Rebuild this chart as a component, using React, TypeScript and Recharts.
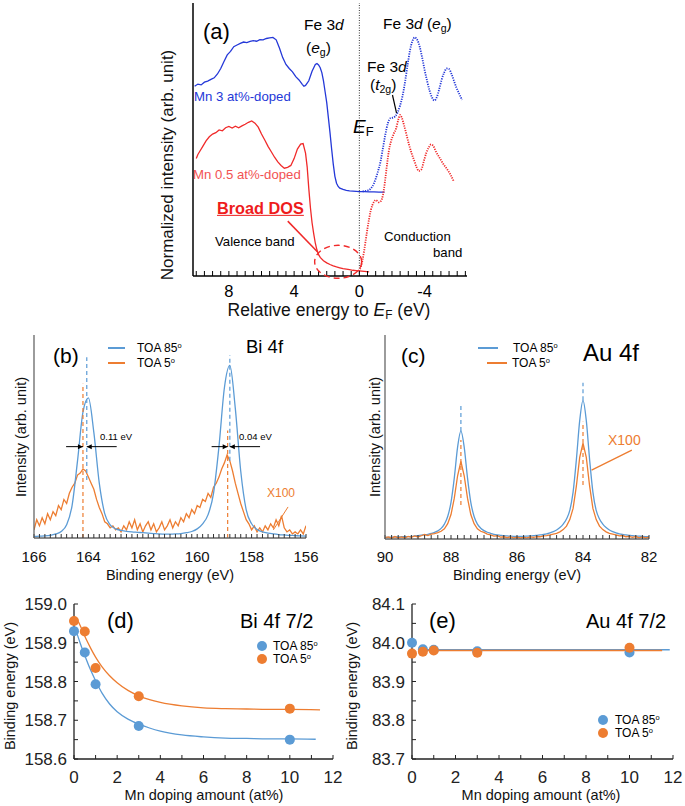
import React from 'react';
import {
  LineChart, ComposedChart, Line, Scatter, XAxis, YAxis, ReferenceLine, ReferenceDot,
} from 'recharts';

const FONT = 'Arial, "Liberation Sans", Helvetica, sans-serif';
const A_BLUE = '#2438d8';
const A_RED = '#f02a2a';
const BLUE = '#5b9bd5';
const ORANGE = '#ed7d31';
const GRAY = '#666';

// ---------- (a) Mn-doped spectra (relative energy to EF, eV) ----------
const A_TICKS = [10, 9.5, 9, 8.5, 8, 7.5, 7, 6.5, 6, 5.5, 5, 4.5, 4, 3.5, 3, 2.5, 2, 1.5, 1, 0.5, 0,
  -0.5, -1, -1.5, -2, -2.5, -3, -3.5, -4, -4.5, -5, -5.5, -6, -6.5];
const A_LABELS = [8, 4, 0, -4];

const MN3_VB_E = [10.1, 9.9, 9.7, 9.5, 9.3, 9.1, 8.9, 8.7, 8.5, 8.3, 8.1, 7.9, 7.7, 7.5, 7.3, 7.1, 6.9, 6.7,
  6.5, 6.3, 6.1, 5.9, 5.7, 5.5, 5.3, 5.1, 4.9, 4.7, 4.5, 4.3, 4.1, 3.9, 3.7, 3.5, 3.4, 3.3, 3.1, 2.9, 2.7,
  2.6, 2.5, 2.4, 2.3, 2.2, 2.1, 2.0, 1.9, 1.8, 1.7, 1.6, 1.5, 1.4, 1.3, 1.2, 1.0, 0.8, 0.6, 0.4, 0.2, 0.0,
  -0.3, -0.6, -0.9, -1.2, -1.55];
const MN3_VB = [69.5, 70.3, 70.0, 71.0, 71.4, 72.0, 72.6, 74.0, 76.0, 78.6, 81.0, 82.3, 84.0, 84.6, 85.2, 85.7,
  85.5, 85.9, 86.2, 86.0, 86.6, 86.5, 87.0, 87.2, 87.4, 86.5, 83.5, 80.0, 77.5, 76.0, 74.8, 73.0, 71.8, 70.2,
  69.5, 69.8, 71.5, 75.0, 77.5, 77.8, 77.3, 76.3, 74.5, 71.5, 67.5, 63.5, 58.0, 52.5, 46.5, 41.0, 36.5, 34.0,
  32.8, 32.2, 31.7, 31.4, 31.2, 31.1, 31.0, 30.9, 30.9, 30.8, 30.8, 30.7, 30.7];

const MN3_CB_E = [-0.2, -0.5, -0.7, -0.9, -1.1, -1.3, -1.45, -1.6, -1.75, -1.9, -2.05, -2.2, -2.35, -2.5,
  -2.65, -2.8, -2.95, -3.1, -3.25, -3.4, -3.55, -3.7, -3.85, -4.0, -4.15, -4.3, -4.45, -4.6, -4.75, -4.9,
  -5.05, -5.2, -5.35, -5.5, -5.65, -5.8, -5.95, -6.1, -6.3];
const MN3_CB = [31.0, 31.3, 32.0, 34.0, 37.5, 42.0, 47.0, 52.0, 56.0, 57.8, 58.0, 58.5, 60.0, 62.5, 66.0,
  71.0, 77.0, 82.5, 86.0, 87.4, 86.5, 84.0, 80.0, 75.5, 71.5, 68.0, 65.5, 64.3, 65.5, 68.5, 72.0, 74.5, 76.0,
  75.8, 74.0, 71.5, 69.0, 67.0, 64.5];

const MN05_VB_E = [10.0, 9.9, 9.8, 9.6, 9.4, 9.2, 9.0, 8.8, 8.6, 8.4, 8.2, 8.0, 7.8, 7.6, 7.4, 7.2, 7.0, 6.8,
  6.6, 6.4, 6.2, 6.0, 5.8, 5.6, 5.4, 5.2, 5.0, 4.8, 4.6, 4.4, 4.2, 4.0, 3.8, 3.6, 3.45, 3.3, 3.2, 3.1, 3.0,
  2.9, 2.8, 2.7, 2.6, 2.5, 2.4, 2.2, 2.0, 1.8, 1.6, 1.4, 1.2, 1.0, 0.8, 0.6, 0.4, 0.2, 0.0, -0.3, -0.6];
const MN05_VB = [43.0, 44.5, 45.5, 47.5, 49.5, 51.0, 52.0, 52.5, 53.5, 53.2, 54.3, 54.8, 54.2, 54.9, 54.3, 55.0,
  55.6, 56.3, 56.8, 56.0, 54.5, 52.0, 49.8, 47.5, 45.5, 43.5, 41.8, 40.5, 39.5, 39.8, 40.5, 43.0, 46.5, 48.3,
  48.5, 45.0, 40.0, 32.0, 25.0, 19.5, 15.5, 12.0, 9.5, 7.8, 6.8, 5.6, 4.8, 4.2, 3.7, 3.3, 3.0, 2.7, 2.5, 2.3,
  2.1, 2.0, 1.9, 1.7, 1.5];

const MN05_CB_E = [0.05, -0.1, -0.2, -0.3, -0.4, -0.5, -0.6, -0.7, -0.8, -0.9, -1.0, -1.1, -1.2, -1.3, -1.4,
  -1.5, -1.6, -1.7, -1.8, -1.95, -2.1, -2.25, -2.4, -2.5, -2.6, -2.75, -2.9, -3.05, -3.2, -3.35, -3.5, -3.65,
  -3.8, -3.95, -4.1, -4.25, -4.4, -4.55, -4.7, -4.85, -5.0, -5.15, -5.3, -5.45, -5.6, -5.8];
const MN05_CB = [1.9, 3.5, 6.0, 9.5, 13.5, 17.5, 21.0, 24.0, 26.0, 27.2, 27.8, 27.5, 27.0, 27.3, 28.5, 31.5,
  36.0, 41.0, 45.5, 49.5, 52.0, 54.0, 57.5, 59.0, 58.0, 55.0, 51.5, 48.0, 45.0, 42.5, 40.0, 38.5, 39.0, 42.0,
  45.0, 47.0, 48.2, 47.5, 45.5, 44.0, 42.5, 41.0, 39.8, 38.5, 37.0, 34.5];

// ---------- (b) Bi 4f ----------
const BI_E_COARSE = [166.0, 165.8, 165.6, 165.4, 165.2, 165.0, 164.8, 164.6, 164.4, 164.2, 164.0, 163.8, 163.6,
  163.4, 163.2, 163.0, 162.8, 162.6, 162.4, 162.2, 162.0, 161.8, 161.6, 161.4, 161.2, 161.0, 160.8, 160.6,
  160.4, 160.2, 160.0, 159.8, 159.6, 159.4, 159.2, 159.0, 158.8, 158.6, 158.4, 158.2, 158.0, 157.8, 157.6,
  157.4, 157.2, 157.0, 156.8, 156.6, 156.4, 156.2, 156.0];
const BI_TOA85 = [0.8, 0.9, 1.0, 1.3, 2.0, 3.2, 6.5, 16, 38, 62, 69, 52, 27, 12, 6.5, 4.5, 3.8, 3.3, 3.0, 2.8,
  2.6, 2.4, 2.2, 2.0, 1.9, 1.9, 2.0, 2.2, 2.6, 3.2, 4.5, 7.0, 11.5, 22, 45, 74, 85, 64, 33, 14, 7, 4.2, 3.0,
  2.4, 2.0, 1.7, 1.5, 1.3, 1.2, 1.0, 0.9];
const BI_E_FINE = [166.0, 165.9, 165.8, 165.7, 165.6, 165.5, 165.4, 165.3, 165.2, 165.1, 165.0, 164.9, 164.8,
  164.7, 164.6, 164.5, 164.4, 164.3, 164.2, 164.1, 164.0, 163.9, 163.8, 163.7, 163.6, 163.5, 163.4, 163.3,
  163.2, 163.1, 163.0, 162.9, 162.8, 162.7, 162.6, 162.5, 162.4, 162.3, 162.2, 162.1, 162.0, 161.9, 161.8,
  161.7, 161.6, 161.5, 161.4, 161.3, 161.2, 161.1, 161.0, 160.9, 160.8, 160.7, 160.6, 160.5, 160.4, 160.3,
  160.2, 160.1, 160.0, 159.9, 159.8, 159.7, 159.6, 159.5, 159.4, 159.3, 159.2, 159.1, 159.0, 158.9, 158.8,
  158.7, 158.6, 158.5, 158.4, 158.3, 158.2, 158.1, 158.0, 157.9, 157.8, 157.7, 157.6, 157.5, 157.4, 157.3,
  157.2, 157.1, 157.0, 156.9, 156.8, 156.7, 156.6, 156.5, 156.4, 156.3, 156.2, 156.1, 156.0];
const BI_TOA5 = [4, 9, 6, 10, 7, 12, 9, 13, 11, 16, 14, 19, 17, 22, 25, 27, 31, 32, 34, 33, 30, 27, 24, 19,
  15, 12, 8, 7, 5, 6, 4, 5, 3, 6, 4, 8, 5, 9, 4, 7, 3, 6, 8, 4, 7, 3, 5, 8, 4, 6, 9, 5, 8, 6, 10, 8, 12, 10,
  14, 12, 16, 15, 19, 18, 22, 20, 25, 27, 30, 34, 37, 41, 38, 33, 27, 22, 17, 13, 9, 7, 4, 6, 3, 5, 3, 6, 4,
  7, 5, 9, 6, 11, 5, 3, 4, 2, 3, 2, 4, 2, 6];
const BI_PEAK_85 = [164.06, 158.8];
const BI_PEAK_5 = [164.2, 158.88];

// ---------- (c) Au 4f ----------
const AU_E = [90.0, 89.9, 89.8, 89.7, 89.6, 89.5, 89.4, 89.3, 89.2, 89.1, 89.0, 88.9, 88.8, 88.7, 88.6, 88.5,
  88.4, 88.3, 88.2, 88.1, 88.0, 87.9, 87.8, 87.7, 87.6, 87.5, 87.4, 87.3, 87.2, 87.1, 87.0, 86.9, 86.8, 86.7,
  86.6, 86.5, 86.4, 86.3, 86.2, 86.1, 86.0, 85.9, 85.8, 85.7, 85.6, 85.5, 85.4, 85.3, 85.2, 85.1, 85.0, 84.9,
  84.8, 84.7, 84.6, 84.5, 84.4, 84.3, 84.2, 84.1, 84.0, 83.9, 83.8, 83.7, 83.6, 83.5, 83.4, 83.3, 83.2, 83.1,
  83.0, 82.9, 82.8, 82.7, 82.6, 82.5, 82.4, 82.3, 82.2, 82.1, 82.0];
const AU_TOA85 = [0.8, 0.8, 0.9, 1.0, 1.0, 1.1, 1.2, 1.2, 1.3, 1.5, 1.7, 1.9, 2.1, 2.3, 2.7, 3.2, 4.0, 5.2,
  7.3, 11, 18, 30, 45, 53, 45, 30, 18, 11, 7.3, 5.3, 4.1, 3.3, 2.8, 2.3, 2.0, 1.8, 1.6, 1.5, 1.4, 1.3, 1.3,
  1.3, 1.3, 1.4, 1.5, 1.6, 1.8, 2.0, 2.2, 2.5, 3.0, 3.6, 4.4, 5.6, 7.3, 9.8, 14, 23, 39, 58, 68, 58, 39, 23,
  14, 9.8, 7.3, 5.6, 4.4, 3.6, 3.0, 2.5, 2.2, 2.0, 1.8, 1.6, 1.5, 1.4, 1.3, 1.2, 1.1];
const AU_TOA5 = [0.7, 1.0, 0.4, 1.2, 0.6, 1.0, 0.5, 1.3, 0.8, 1.5, 1.0, 1.6, 2.2, 1.7, 2.4, 2.6, 3.1, 3.8,
  5.0, 7.5, 12, 20, 31, 38, 31, 20, 12, 7.5, 5.0, 3.8, 3.2, 2.4, 2.0, 1.4, 1.6, 0.9, 1.1, 0.7, 1.0, 0.6, 0.9,
  0.5, 0.8, 0.6, 1.0, 0.8, 1.2, 1.1, 1.5, 1.7, 2.0, 2.4, 2.8, 3.5, 4.6, 6.3, 9.5, 15, 26, 40, 47, 40, 26, 15,
  9.5, 6.3, 4.6, 3.5, 2.8, 2.4, 2.0, 1.5, 1.7, 1.1, 1.3, 0.8, 1.2, 0.6, 1.0, 0.5, 0.9];
const AU_PEAKS = [87.7, 84.0];

// ---------- (d) / (e) binding energy vs Mn doping ----------
const MN_DOPING = [0, 0.5, 1, 3, 10];
const DE_X_TICKS = [0, 1, 2, 3, 4, 5, 6, 7, 8, 9, 10, 11, 12];
const BI72_TOA85 = [158.93, 158.875, 158.793, 158.685, 158.65];
const BI72_TOA5 = [158.956, 158.929, 158.835, 158.762, 158.73];
const BI72_FIT85_X = [0.1, 0.3, 0.5, 0.75, 1.0, 1.3, 1.65, 2.0, 2.5, 3.0, 3.5, 4.0, 5.0, 6.0, 7.0, 8.0, 9.0, 10.0, 11.2];
const BI72_FIT85 = [158.93, 158.897, 158.867, 158.832, 158.802, 158.77, 158.742, 158.722, 158.703, 158.69,
  158.68, 158.672, 158.662, 158.657, 158.654, 158.653, 158.652, 158.652, 158.651];
const BI72_FIT5_X = [0.2, 0.4, 0.6, 0.8, 1.0, 1.3, 1.65, 2.0, 2.5, 3.0, 3.5, 4.0, 5.0, 6.0, 7.0, 8.0, 9.0, 10.0, 11.4];
const BI72_FIT5 = [158.955, 158.93, 158.905, 158.883, 158.863, 158.838, 158.815, 158.797, 158.777, 158.763,
  158.753, 158.746, 158.737, 158.732, 158.73, 158.729, 158.728, 158.728, 158.727];
const BI72_Y_TICKS = [158.6, 158.65, 158.7, 158.75, 158.8, 158.85, 158.9, 158.95, 159.0];

const AU72_TOA85 = [84.0, 83.983, 83.982, 83.978, 83.975];
const AU72_TOA5 = [83.972, 83.977, 83.98, 83.974, 83.987];
const AU72_FIT85_X = [0.3, 11.85];
const AU72_FIT85 = [83.982, 83.982];
const AU72_FIT5_X = [0.3, 11.5];
const AU72_FIT5 = [83.98, 83.98];
const AU72_Y_TICKS = [83.7, 83.75, 83.8, 83.85, 83.9, 83.95, 84.0, 84.05, 84.1];

const pts = (xs: number[], ys: number[]) => xs.slice(0, ys.length).map((x, i) => ({ x, y: ys[i] }));
const evenLabel = (v: number) => (Number.isInteger(v) && v % 2 === 0 ? String(v) : '');
const tenthLabel = (v: number) => (Math.abs(v * 10 - Math.round(v * 10)) < 1e-6 ? v.toFixed(1) : '');

// ---------- small text helpers ----------
const Sub = ({ children }: any) => <span style={{ fontSize: '0.68em', verticalAlign: '-0.25em' }}>{children}</span>;
const Sup = ({ children }: any) => <span style={{ fontSize: '0.62em', verticalAlign: '0.55em' }}>{children}</span>;

const T = ({ x, y, size, color = '#000', bold = false, underline = false, children }: any) => (
  <div style={{
    position: 'absolute', left: x, top: y, transform: 'translateY(-50%)', fontSize: size, lineHeight: 1,
    color, fontWeight: bold ? 700 : 400, textDecoration: underline ? 'underline' : 'none',
    whiteSpace: 'nowrap', fontFamily: FONT,
  }}>{children}</div>
);
const CT = ({ x, y, size, children }: any) => (
  <div style={{
    position: 'absolute', left: x, top: y, transform: 'translate(-50%, -50%)', fontSize: size, lineHeight: 1,
    color: '#111', whiteSpace: 'nowrap', fontFamily: FONT,
  }}>{children}</div>
);
const VT = ({ x, y, size, children }: any) => (
  <div style={{
    position: 'absolute', left: x, top: y, transform: 'translate(-50%, -50%) rotate(-90deg)', fontSize: size,
    lineHeight: 1, color: '#111', whiteSpace: 'nowrap', fontFamily: FONT,
  }}>{children}</div>
);
const Swatch = ({ x, y, w, color }: any) => (
  <div style={{ position: 'absolute', left: x, top: y - 0.75, width: w, height: 1.5, background: color }} />
);
const Dot = ({ x, y, color }: any) => (
  <div style={{ position: 'absolute', left: x - 5, top: y - 5, width: 10, height: 10, borderRadius: '50%', background: color }} />
);

const arrow = (dir: number) => (p: any) => (
  <path d={`M${p.cx},${p.cy} l${-dir * 5},-2.5 l0,5 z`} fill="#000" />
);

function PanelA() {
  const ax = { stroke: '#000', strokeWidth: 1.5 };
  return (
    <div style={{ position: 'absolute', left: 140, top: 0 }}>
      <LineChart width={340} height={320} margin={{ top: 3, right: 13, bottom: 0, left: 0 }}>
        <XAxis dataKey="x" type="number" domain={[-6.6, 10.2]} reversed allowDataOverflow ticks={A_TICKS}
          interval={0} tickFormatter={(v: number) => (A_LABELS.includes(v) ? String(v) : '')}
          tickSize={-5} tickMargin={14} height={44} axisLine={ax} tickLine={{ stroke: '#000' }}
          tick={{ fontSize: 16.5, fill: '#000', fontFamily: FONT }} />
        <XAxis xAxisId="top" orientation="top" type="number" domain={[-6.6, 10.2]} reversed allowDataOverflow
          ticks={A_TICKS} interval={0} tick={false} tickSize={-5} height={0} axisLine={ax}
          tickLine={{ stroke: '#000' }} />
        <YAxis dataKey="y" type="number" domain={[0, 100]} width={53} tick={false} tickLine={false} axisLine={ax} />
        <YAxis yAxisId="right" orientation="right" type="number" domain={[0, 100]} width={0} tick={false}
          tickLine={false} axisLine={ax} />
        <ReferenceLine x={0} stroke="#333" strokeDasharray="1 1.5" strokeWidth={1} />
        <Line data={pts(MN3_VB_E, MN3_VB)} dataKey="y" type="linear" stroke={A_BLUE} strokeWidth={1.3} dot={false} isAnimationActive={false} />
        <Line data={pts(MN3_CB_E, MN3_CB)} dataKey="y" type="monotone" stroke={A_BLUE} strokeWidth={1.8} strokeDasharray="1.2 1.2" dot={false} isAnimationActive={false} />
        <Line data={pts(MN05_VB_E, MN05_VB)} dataKey="y" type="linear" stroke={A_RED} strokeWidth={1.3} dot={false} isAnimationActive={false} />
        <Line data={pts(MN05_CB_E, MN05_CB)} dataKey="y" type="monotone" stroke={A_RED} strokeWidth={1.8} strokeDasharray="1.2 1.2" dot={false} isAnimationActive={false} />
        <ReferenceDot x={1.3} y={5.2} ifOverflow="visible"
          shape={(p: any) => <ellipse cx={p.cx} cy={p.cy} rx={23.5} ry={16.5} fill="none" stroke={A_RED} strokeWidth={1.4} strokeDasharray="6 4" />} />
        <ReferenceLine segment={[{ x: 4.39, y: 20.1 }, { x: 2.56, y: 8.8 }]} stroke={A_RED} strokeWidth={1.5} />
        <ReferenceLine segment={[{ x: -2.03, y: 66.3 }, { x: -2.28, y: 59.7 }]} stroke="#000" strokeWidth={1.2} />
      </LineChart>
    </div>
  );
}

function PanelB() {
  const ax = { stroke: GRAY, strokeWidth: 1.3 };
  return (
    <div style={{ position: 'absolute', left: 0, top: 320 }}>
      <LineChart width={330} height={265} margin={{ top: 15, right: 24, bottom: 0, left: 0 }}>
        <XAxis dataKey="x" type="number" domain={[156, 166]} reversed allowDataOverflow ticks={BI_E_COARSE}
          interval={0} tickFormatter={evenLabel} tickSize={-4} tickMargin={17.6} height={47} axisLine={ax}
          tickLine={{ stroke: '#333' }} tick={{ fontSize: 15, fill: '#111', fontFamily: FONT }} />
        <XAxis xAxisId="top" orientation="top" type="number" domain={[156, 166]} reversed height={0} tick={false}
          tickLine={false} axisLine={ax} />
        <YAxis dataKey="y" type="number" domain={[0, 100]} width={34} tick={false} tickLine={false} axisLine={ax} />
        <YAxis yAxisId="right" orientation="right" type="number" domain={[0, 100]} width={0} tick={false}
          tickLine={false} axisLine={ax} />
        <Line data={pts(BI_E_FINE, BI_TOA5)} dataKey="y" type="linear" stroke={ORANGE} strokeWidth={1.3} dot={false} isAnimationActive={false} />
        <Line data={pts(BI_E_COARSE, BI_TOA85)} dataKey="y" type="monotone" stroke={BLUE} strokeWidth={1.3} dot={false} isAnimationActive={false} />
        <ReferenceLine segment={[{ x: BI_PEAK_85[0], y: 28.6 }, { x: BI_PEAK_85[0], y: 89 }]} stroke={BLUE} strokeDasharray="4 3" strokeWidth={1.2} />
        <ReferenceLine segment={[{ x: BI_PEAK_5[0], y: 0 }, { x: BI_PEAK_5[0], y: 76 }]} stroke={ORANGE} strokeDasharray="4 3" strokeWidth={1.2} />
        <ReferenceLine segment={[{ x: BI_PEAK_85[1], y: 38 }, { x: BI_PEAK_85[1], y: 90 }]} stroke={BLUE} strokeDasharray="4 3" strokeWidth={1.2} />
        <ReferenceLine segment={[{ x: BI_PEAK_5[1], y: 0 }, { x: BI_PEAK_5[1], y: 53 }]} stroke={ORANGE} strokeDasharray="4 3" strokeWidth={1.2} />
        <ReferenceLine segment={[{ x: 164.82, y: 45 }, { x: BI_PEAK_5[0], y: 45 }]} stroke="#000" strokeWidth={1} />
        <ReferenceLine segment={[{ x: 162.96, y: 45 }, { x: BI_PEAK_85[0], y: 45 }]} stroke="#000" strokeWidth={1} />
        <ReferenceLine segment={[{ x: 159.47, y: 45 }, { x: BI_PEAK_5[1], y: 45 }]} stroke="#000" strokeWidth={1} />
        <ReferenceLine segment={[{ x: 157.69, y: 45 }, { x: BI_PEAK_85[1], y: 45 }]} stroke="#000" strokeWidth={1} />
        <ReferenceDot x={BI_PEAK_5[0]} y={45} shape={arrow(1)} />
        <ReferenceDot x={BI_PEAK_85[0]} y={45} shape={arrow(-1)} />
        <ReferenceDot x={BI_PEAK_5[1]} y={45} shape={arrow(1)} />
        <ReferenceDot x={BI_PEAK_85[1]} y={45} shape={arrow(-1)} />
        <ReferenceLine segment={[{ x: 157.2, y: 4 }, { x: 156.66, y: 15.3 }]} stroke={ORANGE} strokeWidth={1} />
      </LineChart>
    </div>
  );
}

function PanelC() {
  const ax = { stroke: GRAY, strokeWidth: 1.3 };
  const ticks = AU_E.filter((_, i) => i % 2 === 0);
  return (
    <div style={{ position: 'absolute', left: 330, top: 320 }}>
      <LineChart width={340} height={265} margin={{ top: 15, right: 21, bottom: 0, left: 0 }}>
        <XAxis dataKey="x" type="number" domain={[82, 90]} reversed allowDataOverflow ticks={ticks}
          interval={0} tickFormatter={evenLabel} tickSize={-4} tickMargin={16.6} height={46} axisLine={ax}
          tickLine={{ stroke: '#333' }} tick={{ fontSize: 15, fill: '#111', fontFamily: FONT }} />
        <XAxis xAxisId="top" orientation="top" type="number" domain={[82, 90]} reversed height={0} tick={false}
          tickLine={false} axisLine={ax} />
        <YAxis dataKey="y" type="number" domain={[0, 100]} width={55} tick={false} tickLine={false} axisLine={ax} />
        <YAxis yAxisId="right" orientation="right" type="number" domain={[0, 100]} width={0} tick={false}
          tickLine={false} axisLine={ax} />
        <Line data={pts(AU_E, AU_TOA85)} dataKey="y" type="monotone" stroke={BLUE} strokeWidth={1.3} dot={false} isAnimationActive={false} />
        <Line data={pts(AU_E, AU_TOA5)} dataKey="y" type="linear" stroke={ORANGE} strokeWidth={1.3} dot={false} isAnimationActive={false} />
        <ReferenceLine segment={[{ x: AU_PEAKS[0], y: 53 }, { x: AU_PEAKS[0], y: 66.5 }]} stroke={BLUE} strokeDasharray="4 3" strokeWidth={1.2} />
        <ReferenceLine segment={[{ x: AU_PEAKS[0], y: 16.7 }, { x: AU_PEAKS[0], y: 48.5 }]} stroke={ORANGE} strokeDasharray="4 3" strokeWidth={1.2} />
        <ReferenceLine segment={[{ x: AU_PEAKS[1], y: 68 }, { x: AU_PEAKS[1], y: 76.6 }]} stroke={BLUE} strokeDasharray="4 3" strokeWidth={1.2} />
        <ReferenceLine segment={[{ x: AU_PEAKS[1], y: 26.5 }, { x: AU_PEAKS[1], y: 57.5 }]} stroke={ORANGE} strokeDasharray="4 3" strokeWidth={1.2} />
        <ReferenceLine segment={[{ x: 83.74, y: 33.8 }, { x: 82.52, y: 43.6 }]} stroke={ORANGE} strokeWidth={1.3} />
      </LineChart>
    </div>
  );
}

function DopingPanel({ left, yDomain, yTicks, s85, s5, f85x, f85, f5x, f5, yWidth }: any) {
  const ax = { stroke: '#222', strokeWidth: 1.3 };
  return (
    <div style={{ position: 'absolute', left, top: 590 }}>
      <ComposedChart width={345} height={216} margin={{ top: 14, right: 12, bottom: 0, left: 0 }}>
        <XAxis dataKey="x" type="number" domain={[0, 12]} ticks={DE_X_TICKS} interval={0} tickFormatter={evenLabel}
          tickSize={-4} tickMargin={15.9} height={47} axisLine={ax} tickLine={{ stroke: '#222' }}
          tick={{ fontSize: 17, fill: '#222', fontFamily: FONT }} />
        <XAxis xAxisId="top" orientation="top" type="number" domain={[0, 12]} height={0} tick={false}
          tickLine={false} axisLine={ax} />
        <YAxis dataKey="y" type="number" domain={yDomain} ticks={yTicks} interval={0} tickFormatter={tenthLabel}
          tickSize={-4} tickMargin={11} width={yWidth} axisLine={ax} tickLine={{ stroke: '#222' }}
          tick={{ fontSize: 17, fill: '#222', fontFamily: FONT }} />
        <YAxis yAxisId="right" orientation="right" type="number" domain={yDomain} width={0} tick={false}
          tickLine={false} axisLine={ax} />
        <Line data={pts(f85x, f85)} dataKey="y" type="monotone" stroke={BLUE} strokeWidth={1.3} dot={false} isAnimationActive={false} />
        <Line data={pts(f5x, f5)} dataKey="y" type="monotone" stroke={ORANGE} strokeWidth={1.3} dot={false} isAnimationActive={false} />
        <Scatter data={pts(MN_DOPING, s85)} dataKey="y" isAnimationActive={false}
          shape={(p: any) => <circle cx={p.cx} cy={p.cy} r={5} fill={BLUE} />} />
        <Scatter data={pts(MN_DOPING, s5)} dataKey="y" isAnimationActive={false}
          shape={(p: any) => <circle cx={p.cx} cy={p.cy} r={5} fill={ORANGE} />} />
      </ComposedChart>
    </div>
  );
}

export default function App() {
  return (
    <div style={{ position: 'absolute', left: 0, top: 0, width: 685, height: 806, background: '#fff', fontFamily: FONT, overflow: 'hidden' }}>
      <PanelA />
      <PanelB />
      <PanelC />
      <DopingPanel left={0} yDomain={[158.6, 159.0]} yTicks={BI72_Y_TICKS} s85={BI72_TOA85} s5={BI72_TOA5}
        f85x={BI72_FIT85_X} f85={BI72_FIT85} f5x={BI72_FIT5_X} f5={BI72_FIT5} yWidth={74} />
      <DopingPanel left={340} yDomain={[83.7, 84.1]} yTicks={AU72_Y_TICKS} s85={AU72_TOA85} s5={AU72_TOA5}
        f85x={AU72_FIT85_X} f85={AU72_FIT85} f5x={AU72_FIT5_X} f5={AU72_FIT5} yWidth={72} />

      {/* (a) annotations */}
      <T x={203} y={32} size={22}>(a)</T>
      <T x={304} y={25} size={15.5}>Fe 3<i>d</i></T>
      <T x={306} y={49} size={15.5}>(<i>e</i><Sub>g</Sub>)</T>
      <T x={383} y={25} size={15.5}>Fe 3<i>d</i> (<i>e</i><Sub>g</Sub>)</T>
      <T x={367} y={67} size={15.5}>Fe 3<i>d</i></T>
      <T x={370} y={86} size={15.5}>(<i>t</i><Sub>2g</Sub>)</T>
      <T x={353} y={128} size={19}><i>E</i><Sub>F</Sub></T>
      <T x={194} y={97} size={13.2} color={A_BLUE}>Mn 3 at%-doped</T>
      <T x={193} y={175} size={13.2} color="#f25252">Mn 0.5 at%-doped</T>
      <T x={217} y={208} size={16.3} color="#ee1c1c" bold underline>Broad DOS</T>
      <T x={215} y={242} size={13.2}>Valence band</T>
      <T x={384} y={237} size={13.2}>Conduction</T>
      <T x={433} y={253} size={13.2}>band</T>
      <CT x={329} y={312} size={17.5}>Relative energy to <i>E</i><Sub>F</Sub> (eV)</CT>
      <VT x={167} y={165} size={17}>Normalized intensity (arb. unit)</VT>

      {/* (b) annotations */}
      <T x={53} y={355} size={21}>(b)</T>
      <T x={246} y={347} size={18.5}>Bi 4f</T>
      <Swatch x={108} y={348} w={17} color={BLUE} />
      <T x={137} y={348} size={12}>TOA 85<Sup>o</Sup></T>
      <Swatch x={108} y={363} w={17} color={ORANGE} />
      <T x={137} y={363} size={12}>TOA 5<Sup>o</Sup></T>
      <T x={100} y={437} size={9.5}>0.11 eV</T>
      <T x={239} y={437} size={9.5}>0.04 eV</T>
      <T x={267} y={493} size={12} color={ORANGE}>X100</T>
      <CT x={170} y={575} size={14.5}>Binding energy (eV)</CT>
      <VT x={21} y={437} size={14.5}>Intensity (arb. unit)</VT>

      {/* (c) annotations */}
      <T x={401} y={355} size={21}>(c)</T>
      <T x={583} y={353} size={24}>Au 4f</T>
      <Swatch x={478} y={348} w={20} color={BLUE} />
      <T x={513} y={348} size={12}>TOA 85<Sup>o</Sup></T>
      <Swatch x={487} y={363} w={20} color={ORANGE} />
      <T x={512} y={363} size={12}>TOA 5<Sup>o</Sup></T>
      <T x={608} y={440} size={14} color={ORANGE}>X100</T>
      <CT x={517} y={575} size={14.5}>Binding energy (eV)</CT>
      <VT x={375} y={437} size={14.5}>Intensity (arb. unit)</VT>

      {/* (d) annotations */}
      <T x={107} y={621} size={22}>(d)</T>
      <T x={240} y={621} size={20}>Bi 4f 7/2</T>
      <Dot x={262} y={646} color={BLUE} />
      <T x={273} y={646} size={12}>TOA 85<Sup>o</Sup></T>
      <Dot x={262} y={659} color={ORANGE} />
      <T x={273} y={659} size={12}>TOA 5<Sup>o</Sup></T>
      <CT x={204} y={795} size={14.5}>Mn doping amount (at%)</CT>
      <VT x={10} y={686} size={14.5}>Binding energy (eV)</VT>

      {/* (e) annotations */}
      <T x={429} y={621} size={22}>(e)</T>
      <T x={586} y={621} size={20}>Au 4f 7/2</T>
      <Dot x={603} y={720} color={BLUE} />
      <T x={615} y={720} size={12}>TOA 85<Sup>o</Sup></T>
      <Dot x={603} y={733} color={ORANGE} />
      <T x={615} y={733} size={12}>TOA 5<Sup>o</Sup></T>
      <CT x={541} y={795} size={14.5}>Mn doping amount (at%)</CT>
      <VT x={352} y={686} size={14.5}>Binding energy (eV)</VT>
    </div>
  );
}
